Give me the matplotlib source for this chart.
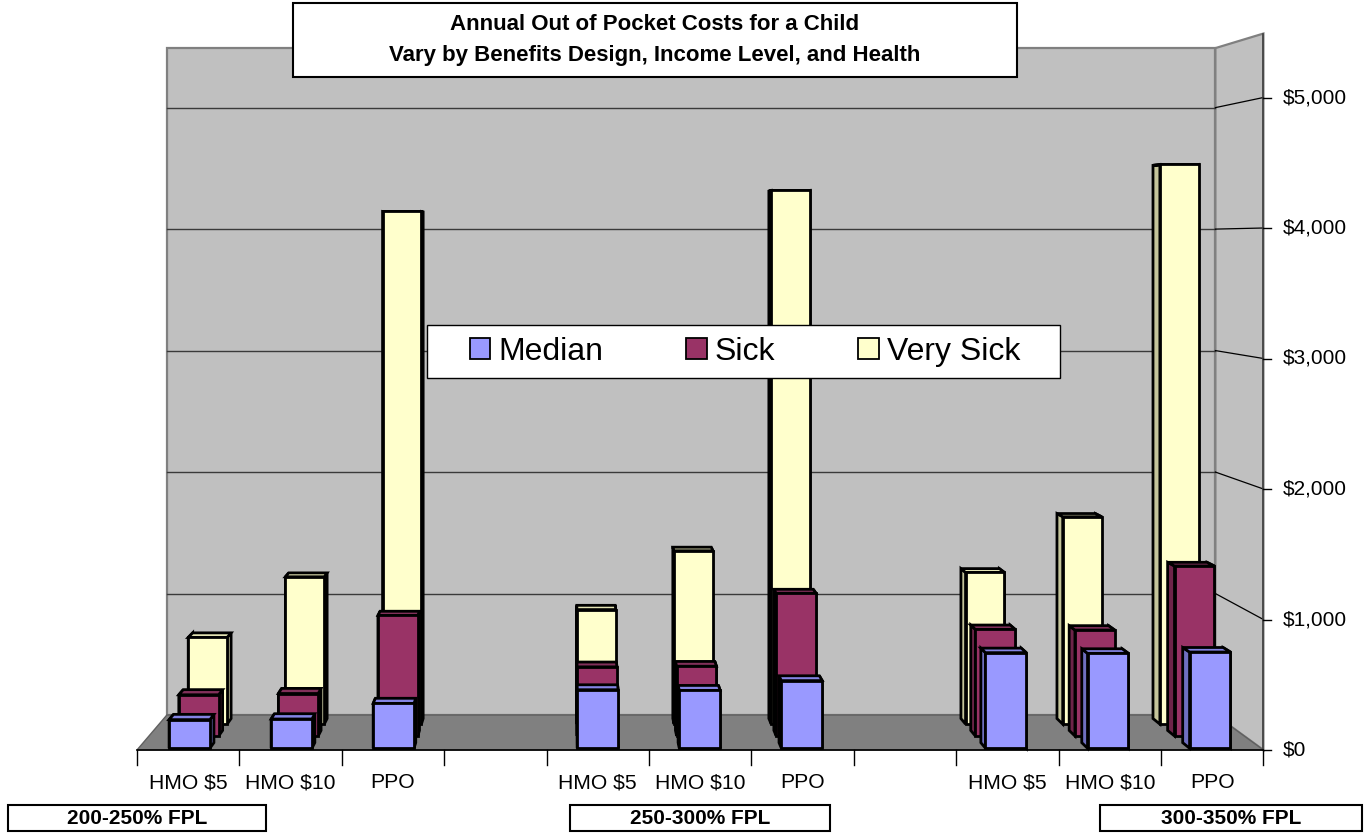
import matplotlib
matplotlib.use("Agg")
import matplotlib.pyplot as plt
from matplotlib.transforms import Affine2D
from matplotlib.patches import Polygon, Rectangle, Patch

# ---------------- data ----------------
categories = ["HMO $5", "HMO $10", "PPO", "",
              "HMO $5", "HMO $10", "PPO", "",
              "HMO $5", "HMO $10", "PPO"]
median = [220, 225, 345, None, 450, 445, 520, None, 735, 730, 740]
sick = [325, 335, 950, None, 545, 550, 1125, None, 840, 835, 1340]
very_sick = [700, 1190, 4140, None, 925, 1400, 4310, None, 1225, 1675, 4520]
series_names = ["Median", "Sick", "Very Sick"]
y_ticks = [0, 1000, 2000, 3000, 4000, 5000]
y_tick_labels = ["$0", "$1,000", "$2,000", "$3,000", "$4,000", "$5,000"]
group_labels = ["200-250% FPL", "250-300% FPL", "300-350% FPL"]
title_lines = ["Annual Out of Pocket Costs for a Child",
               "Vary by Benefits Design, Income Level, and Health"]

# ---------------- layout / style ----------------
W, H = 1371, 834
FRONT_X0 = 137.0          # px of category boundary 0 on front plane
CAT_W = 102.4             # px per category on front plane
BASE_Y = 750.0            # px of $0 on front plane
PX_PER_DOLLAR = 0.1305
VP_X, VP_Y = 569.0, 244.0
DEPTH_SHRINK = 0.0691
WALL_TOP = 5490
N_CAT = len(categories)
row_z = {"Very Sick": 0.74, "Sick": 0.40, "Median": 0.05}
BAR_DZ = 0.16
BAR_W = 0.40
face_c = {"Median": "#9999FF", "Sick": "#993366", "Very Sick": "#FFFFCC"}
side_c = {"Median": "#6F6FC0", "Sick": "#6E2449", "Very Sick": "#C4C49A"}
top_c = {"Median": "#8484E4", "Sick": "#82305A", "Very Sick": "#E4E4B4"}
values = {"Median": median, "Sick": sick, "Very Sick": very_sick}

plt.rcParams["font.family"] = ["Liberation Sans", "DejaVu Sans"]

fig = plt.figure(figsize=(W / 100, H / 100), dpi=100)
ax = fig.add_axes([0, 0, 1, 1])
ax.set_xlim(-FRONT_X0 / CAT_W, (W - FRONT_X0) / CAT_W)
ax.set_ylim((BASE_Y - H) / PX_PER_DOLLAR, BASE_Y / PX_PER_DOLLAR)
ax.axis("off")

vx = (VP_X - FRONT_X0) / CAT_W
vy = (BASE_Y - VP_Y) / PX_PER_DOLLAR


def plane(z):
    s = 1 - DEPTH_SHRINK * z
    return Affine2D().translate(-vx, -vy).scale(s).translate(vx, vy)


def P(x, v, z):
    return plane(z).transform([(x, v)])[0]


def fx(px):
    return px / W


def fy(py):
    return 1 - py / H


# ---------------- walls / floor ----------------
ax.add_patch(Rectangle((0, 0), N_CAT, WALL_TOP, transform=plane(1) + ax.transData,
                       facecolor="#C0C0C0", edgecolor="#808080", lw=1.6, zorder=1))
ax.add_patch(Polygon([P(N_CAT, 0, 0), P(N_CAT, 0, 1), P(N_CAT, WALL_TOP, 1),
                      P(N_CAT, WALL_TOP, 0)], closed=True,
                     facecolor="#C0C0C0", edgecolor="#808080", lw=1.6, zorder=1))
ax.add_patch(Polygon([P(0, 0, 0), P(N_CAT, 0, 0), P(N_CAT, 0, 1), P(0, 0, 1)],
                     closed=True, facecolor="#808080", edgecolor="#606060",
                     lw=1.0, zorder=1.5))
for v in y_ticks[1:]:
    a, b = P(0, v, 1), P(N_CAT, v, 1)
    ax.plot([a[0], b[0]], [a[1], b[1]], color="#3A3A3A", lw=1.0, zorder=2)
    c = P(N_CAT, v, 0)
    ax.plot([b[0], c[0]], [b[1], c[1]], color="black", lw=0.9, zorder=2)

# right (value) axis on the front edge of the side wall
a, b = P(N_CAT, 0, 0), P(N_CAT, WALL_TOP, 0)
ax.plot([a[0], b[0]], [a[1], b[1]], color="#404040", lw=1.2, zorder=3)
tick_len = 8 / CAT_W
for v, lab in zip(y_ticks, y_tick_labels):
    ax.plot([N_CAT, N_CAT + tick_len], [v, v], color="black", lw=1.0, zorder=3)
    ax.text(N_CAT + 19 / CAT_W, v, lab, ha="left", va="center", fontsize=15,
            color="black")

# category axis on the front edge of the floor
ax.plot([0, N_CAT], [0, 0], color="black", lw=1.2, zorder=3)
tick_down = 15 / PX_PER_DOLLAR
for i in range(N_CAT + 1):
    ax.plot([i, i], [0, -tick_down], color="black", lw=1.0, zorder=3)
for i, lab in enumerate(categories):
    if lab:
        ax.text(i + 0.5, -33 / PX_PER_DOLLAR, lab, ha="center", va="center",
                fontsize=15.2, color="black")

# ---------------- 3-D columns ----------------
for rank, name in enumerate(["Very Sick", "Sick", "Median"]):
    zf = row_z[name]
    zb = zf + BAR_DZ
    base_z = 10 + 10 * rank
    for i, v in enumerate(values[name]):
        if v is None:
            continue
        x0 = i + 0.5 - BAR_W / 2
        x1 = i + 0.5 + BAR_W / 2
        ek = dict(edgecolor="black", lw=2.0, joinstyle="miter")
        # side faces
        for xs in (x0, x1):
            ax.add_patch(Polygon([P(xs, 0, zf), P(xs, 0, zb), P(xs, v, zb), P(xs, v, zf)],
                                 closed=True, facecolor=side_c[name], zorder=base_z, **ek))
        # top face
        ax.add_patch(Polygon([P(x0, v, zf), P(x1, v, zf), P(x1, v, zb), P(x0, v, zb)],
                             closed=True, facecolor=top_c[name], zorder=base_z + 1, **ek))
        # front face
        ax.bar(i + 0.5, v, width=BAR_W, transform=plane(zf) + ax.transData,
               color=face_c[name], zorder=base_z + 2, **ek)

# ---------------- legend ----------------
ax.add_patch(Rectangle((fx(427), fy(378)), (1060 - 427) / W, (378 - 325) / H,
                       transform=fig.transFigure, facecolor="white",
                       edgecolor="black", lw=1.0, zorder=50))
handles = [Patch(facecolor=face_c[n], edgecolor="black", lw=1.3) for n in series_names]
leg = ax.legend(handles, series_names, loc="center left",
                bbox_to_anchor=(fx(470), fy(351.5)), bbox_transform=fig.transFigure,
                ncol=3, frameon=False, fontsize=23, handlelength=0.63,
                handleheight=0.63, handletextpad=0.26, columnspacing=2.6,
                borderpad=0, borderaxespad=0)
leg.set_zorder(60)

# ---------------- title box ----------------
ax.add_patch(Rectangle((fx(293), fy(77)), (1017 - 293) / W, (77 - 3) / H,
                       transform=fig.transFigure, facecolor="white",
                       edgecolor="black", lw=1.5, zorder=70))
ax.text(fx(655), fy(25), title_lines[0], transform=fig.transFigure, ha="center",
        va="center", fontsize=16, fontweight="bold", zorder=71)
ax.text(fx(655), fy(55), title_lines[1], transform=fig.transFigure, ha="center",
        va="center", fontsize=16, fontweight="bold", zorder=71)

# ---------------- group label boxes ----------------
boxes = [(8, 266), (570, 830), (1100, 1362)]
for (l, r), lab in zip(boxes, group_labels):
    ax.add_patch(Rectangle((fx(l), fy(831)), (r - l) / W, (831 - 805) / H,
                           transform=fig.transFigure, facecolor="white",
                           edgecolor="black", lw=1.5, zorder=70))
    ax.text(fx((l + r) / 2), fy(818), lab, transform=fig.transFigure, ha="center",
            va="center", fontsize=15, fontweight="bold", zorder=71)

fig.savefig("out.png", dpi=100)
